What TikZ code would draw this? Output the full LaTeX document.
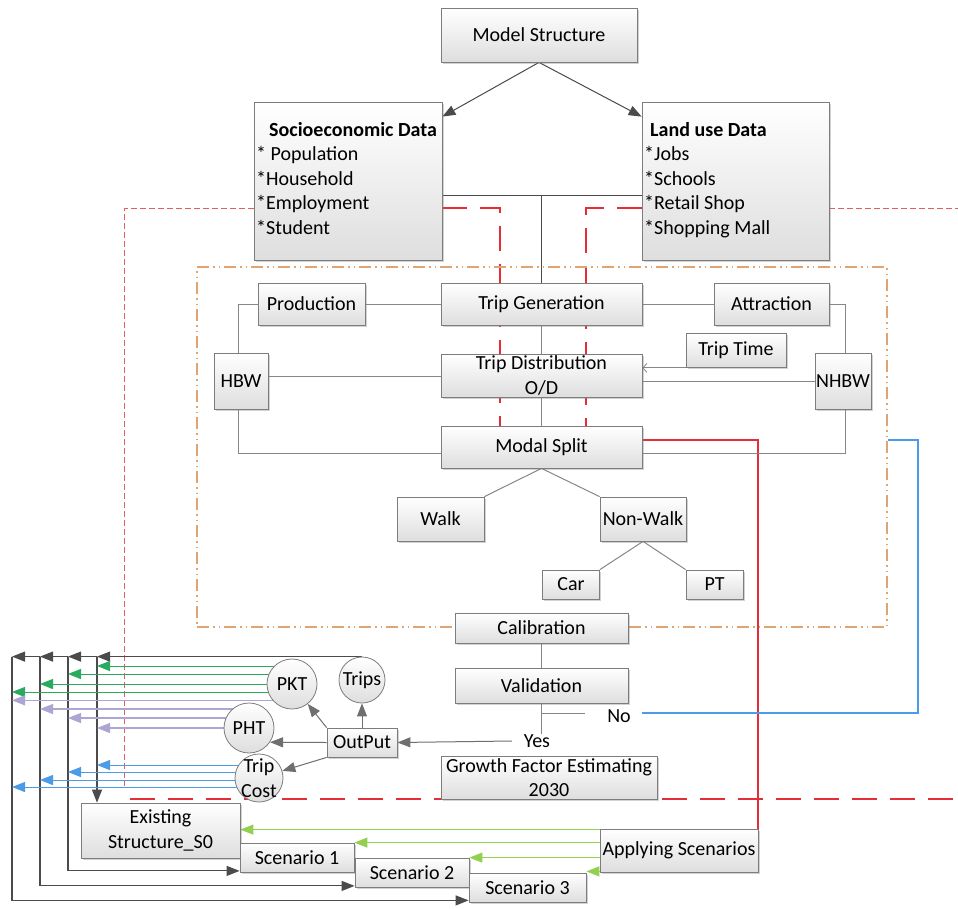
\documentclass[tikz,border=0pt]{standalone}
\usepackage{fontspec}
\setmainfont{Carlito}
\usetikzlibrary{arrows.meta,shadows,calc}
\pgfdeclarelayer{back}
\pgfdeclarelayer{bg}
\pgfsetlayers{back,bg,main}
\newcommand\fsz{\fontsize{20}{24.5}\selectfont}
\definecolor{boxline}{RGB}{125,125,125}
\definecolor{boxbot}{RGB}{222,222,222}
\definecolor{conn}{RGB}{135,135,135}
\definecolor{darkc}{RGB}{75,75,75}
\definecolor{grn}{RGB}{40,170,95}
\definecolor{lav}{RGB}{172,166,210}
\definecolor{blu}{RGB}{75,155,230}
\definecolor{lgrn}{RGB}{146,208,80}
\definecolor{redd}{RGB}{228,45,55}
\definecolor{redt}{RGB}{226,95,95}
\definecolor{orng}{RGB}{222,165,115}
\tikzset{
  box/.style={draw=boxline, line width=0.8pt, top color=white, bottom color=boxbot,
    drop shadow={shadow xshift=1.5pt,shadow yshift=-1.5pt,opacity=0.35},
    inner sep=0pt, align=center, font=\fsz},
  circ/.style={circle, draw=boxline, line width=0.8pt, top color=white, bottom color=boxbot,
    inner sep=0pt, minimum size=#1, font=\fsz},
  circ/.default=48pt,
  txt/.style={inner sep=0pt, align=left, font=\fsz},
  lbl/.style={inner sep=0pt, font=\fsz},
  cl/.style={draw=conn, line width=1pt},
  dl/.style={draw=darkc, line width=1pt},
  bus/.style={draw=darkc, line width=1.1pt},
  arrtip/.style={-{Triangle[length=13pt,width=10pt]}},
  opentip/.style={-{Straight Barb[length=4pt,width=9pt,line width=0.8pt]}},
  grnl/.style={draw=grn, line width=1pt, arrtip},
  lavl/.style={draw=lav, line width=1.1pt, arrtip},
  blul/.style={draw=blu, line width=1pt, arrtip},
  lgrnl/.style={draw=lgrn, line width=1pt, arrtip},
  frm/.style={draw=orng, line width=1.8pt, dash pattern=on 12pt off 4pt on 1.5pt off 4pt on 1.5pt off 4pt,
    minimum width=690pt, minimum height=360pt, inner sep=0pt},
  rthin/.style={draw=redt, line width=0.9pt, dash pattern=on 6pt off 3pt},
  rthick/.style={draw=redd, line width=2pt, dash pattern=on 25pt off 13pt},
  rsolid/.style={draw=redd, line width=2pt},
  bluel/.style={draw=blu, line width=1.5pt},
}
\begin{document}
\begin{tikzpicture}[x=1pt,y=-1pt]
\begin{pgfonlayer}{back}
\fill[white] (0,0) rectangle (958,908);
\end{pgfonlayer}
\useasboundingbox (0,0) rectangle (958,908);

% frame
\node[frm] (frame) at (542,447) {};

% boxes
\node[box,minimum width=196pt,minimum height=54pt] (ms) at (539,35) {Model Structure};
\node[box,minimum width=188pt,minimum height=158pt] (socio) at (348,181) {};
\node[txt,anchor=north west] (sociot) at (256,122) {\hspace*{13pt}\textbf{Socioeconomic Data}\\{}* Population\\{}*Household\\{}*Employment\\{}*Student};
\node[box,minimum width=187pt,minimum height=158pt] (land) at (735.5,181) {};
\node[txt,anchor=north west] (landt) at (644,122) {\hspace*{6pt}\textbf{Land use Data}\\{}*Jobs\\{}*Schools\\{}*Retail Shop\\{}*Shopping Mall};

\node[box,minimum width=107pt,minimum height=42pt] (prod) at (311.5,304) {Production};
\node[box,minimum width=201pt,minimum height=42pt] (tg) at (541.5,304) {Trip Generation};
\node[box,minimum width=115pt,minimum height=42pt] (attr) at (771.5,304) {Attraction};
\node[box,minimum width=100pt,minimum height=34pt] (tt) at (736,350.5) {Trip Time};
\node[box,minimum width=201pt,minimum height=43pt] (td) at (541.5,375.5) {Trip Distribution\\O/D};
\node[box,minimum width=54pt,minimum height=56pt] (hbw) at (241,381) {HBW};
\node[box,minimum width=56pt,minimum height=56pt] (nhbw) at (843,381) {NHBW};
\node[box,minimum width=201pt,minimum height=42pt] (msp) at (541.5,447) {Modal Split};
\node[box,minimum width=87pt,minimum height=44pt] (walk) at (440.5,519) {Walk};
\node[box,minimum width=86pt,minimum height=44pt] (nonwalk) at (643,519) {Non-Walk};
\node[box,minimum width=57pt,minimum height=29pt] (car) at (571,584.5) {Car};
\node[box,minimum width=57pt,minimum height=29pt] (pt) at (714.5,584.5) {PT};
\node[box,minimum width=173pt,minimum height=30pt] (calib) at (541.5,628) {Calibration};
\node[box,minimum width=173pt,minimum height=35pt] (valid) at (541.5,685.5) {Validation};
\node[box,minimum width=70pt,minimum height=29pt] (output) at (362,742.5) {OutPut};
\node[box,minimum width=216pt,minimum height=43pt] (growth) at (549,777.5) {Growth Factor Estimating\\2030};
\node[box,minimum width=159pt,minimum height=55pt] (exist) at (160.5,830.5) {Existing\\Structure\_S0};
\node[box,minimum width=114pt,minimum height=29pt] (sc1) at (297,857.5) {Scenario 1};
\node[box,minimum width=114pt,minimum height=29pt] (sc2) at (412,872.5) {Scenario 2};
\node[box,minimum width=117pt,minimum height=29pt] (sc3) at (527.5,887.5) {Scenario 3};
\node[box,minimum width=158pt,minimum height=43pt] (apply) at (679,850.5) {Applying Scenarios};

% circles
\node[circ=46pt,label={[lbl]center:Trips}] (trips) at (362,680) {};
\node[circ=50pt,label={[lbl]center:PKT}] (pkt) at (292,684) {};
\node[circ=50pt,label={[lbl]center:PHT}] (pht) at (249,728) {};
\node[circ=48pt,label={[lbl,align=center]center:Trip\\Cost}] (tripcost) at (259,778) {};

% labels
\node[lbl] (yes) at (537,741) {Yes};
\node[lbl] (no) at (619,716) {No};

\begin{pgfonlayer}{bg}
% red lines
\coordinate (sr) at ([yshift=-27pt]socio.west);
\draw[rthin] (sr) -- ++(-129,0) -- ++(0,578);
\coordinate (lr) at ([yshift=-27pt]land.east);
\draw[rthin] (lr) -- ++(129,0);
\draw[rthick] ([yshift=-27pt]socio.east) -| ([xshift=-41.5pt]msp.north);
\draw[rthick] ([yshift=-27pt]land.west) -| ([xshift=44pt]msp.north);
\draw[rthick] ([xshift=-311pt]growth.south west) -- ([xshift=301pt]growth.south east);
\draw[rsolid] ([yshift=7pt]msp.east) -| (apply.north east);
\draw[bluel] ([yshift=7pt]frame.east) -- ++(30,0) |- ([xshift=11pt,yshift=3pt]no.east);

% top connectors
\draw[dl,arrtip] (ms.south) -- ([yshift=-15pt]socio.north east);
\draw[dl,arrtip] (ms.south) -- ([yshift=-15pt]land.north west);
\coordinate (sj) at ([yshift=-14pt]socio.east);
\draw[dl] (sj) -- (sj -| land.west);
\draw[dl] (tg.north) -- (tg.north |- sj);

% model connectors
\draw[cl] (tg.west) -- (prod.east);
\draw[cl] (tg.east) -- (attr.west);
\draw[cl] (prod.west) -| ([xshift=-3pt]hbw.north);
\draw[cl] ([xshift=-3pt]hbw.south) |- ([yshift=-6pt]msp.west);
\draw[cl] ([yshift=5pt]hbw.east) -- ([yshift=5pt]hbw.east -| td.west);
\draw[cl] (attr.east) -| ([xshift=2pt]nhbw.north);
\draw[cl] ([xshift=2pt]nhbw.south) |- ([yshift=-6pt]msp.east);
\draw[cl] (nhbw.west) -- (nhbw.west -| td.east);
\draw[cl,opentip] (tt.south west) -- (tt.south west -| td.east);
\draw[cl] (tg.south) -- (td.north);
\draw[cl] (td.south) -- (msp.north);
\draw[cl] (msp.south) -- (walk.north east);
\draw[cl] (msp.south) -- (nonwalk.north west);
\draw[cl] (nonwalk.south) -- (car.north east);
\draw[cl] (nonwalk.south) -- (pt.north west);
\draw[cl] (calib.south) -- (valid.north);
\draw[cl] (valid.south) -- (valid.south |- yes.north);
\coordinate (vj) at ([yshift=-10pt]valid.south);
\draw[cl] (vj) -- ++(43,0);
\draw[cl,draw=darkc!80,arrtip] ([xshift=-12pt]yes.west) -- (output.east);

% output arrows
\draw[cl,draw=darkc!80,arrtip] (output.north west) -- (pkt);
\draw[cl,draw=darkc!80,arrtip] (output.north) -- (trips.south);
\draw[cl,draw=darkc!80,arrtip] (output.west) -- (pht.-34);
\draw[cl,draw=darkc!80,arrtip] (output.south west) -- (tripcost);

% left bus
\path (trips.north) ++(-265,0) coordinate (b1) ++(-29,0) coordinate (b2)
      ++(-28,0) coordinate (b3) ++(-28,0) coordinate (b4);
\draw[bus,arrtip] (trips.north) -- (b1);
\draw[bus,arrtip] (b1) -- (b2);
\draw[bus,arrtip] (b2) -- (b3);
\draw[bus,arrtip] (b3) -- (b4);
\draw[bus,arrtip] (b1) -- (b1 |- exist.north);
\draw[bus,arrtip] (b2) |- ([yshift=1.5pt]sc1.south west);
\draw[bus,arrtip] (b3) |- ([yshift=1.5pt]sc2.south west);
\draw[bus,arrtip] (b4) |- ([yshift=2pt]sc3.south west);

% green from PKT
\coordinate (g1) at ([yshift=18pt]pkt.center);
\coordinate (g2) at ([yshift=10pt]pkt.center);
\coordinate (g3) at (pkt.center);
\coordinate (g4) at ([yshift=-8pt]pkt.center);
\draw[grnl] (g1) -- (g1 -| b1);
\draw[grnl] (g2) -- (g2 -| b2);
\draw[grnl] (g3) -- (g3 -| b3);
\draw[grnl] (g4) -- (g4 -| b4);

% lavender from PHT
\coordinate (l4) at (pkt.220);
\coordinate (l3) at ([yshift=19pt]pht.center);
\coordinate (l2) at ([yshift=10pt]pht.center);
\coordinate (l1) at (pht.center);
\draw[lavl] (l4) -- (l4 -| b4);
\draw[lavl] (l3) -- (l3 -| b3);
\draw[lavl] (l2) -- (l2 -| b2);
\draw[lavl] (l1) -- (l1 -| b1);

% blue from Trip Cost
\coordinate (c1) at ([yshift=13pt]tripcost.center);
\coordinate (c2) at ([yshift=6pt]tripcost.center);
\coordinate (c3) at ([yshift=-2pt]tripcost.center);
\coordinate (c4) at ([yshift=-9pt]tripcost.center);
\draw[blul] (c1) -- (c1 -| b1);
\draw[blul] (c2) -- (c2 -| b2);
\draw[blul] (c3) -- (c3 -| b3);
\draw[blul] (c4) -- (c4 -| b4);

% light green from Applying Scenarios
\coordinate (a1) at ([yshift=-1pt]apply.north west);
\coordinate (a2) at ([yshift=-14pt]apply.north west);
\coordinate (a3) at ([yshift=-29pt]apply.north west);
\coordinate (a4) at ([yshift=1pt]apply.south west);
\draw[lgrnl] (a1) -- (a1 -| exist.east);
\draw[lgrnl] (a2) -- (a2 -| sc1.east);
\draw[lgrnl] (a3) -- (a3 -| sc2.east);
\draw[lgrnl] (a4) -- (a4 -| sc3.east);
\end{pgfonlayer}
\end{tikzpicture}
\end{document}
